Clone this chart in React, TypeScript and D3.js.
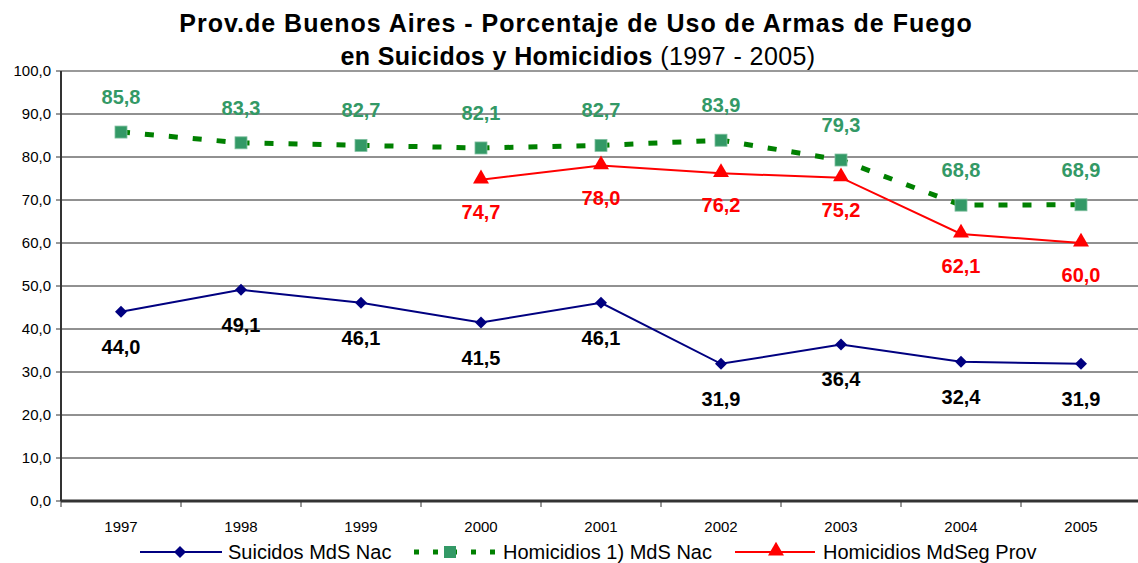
import React, { useEffect, useRef } from "react";
import * as d3 from "d3";

const years = ["1997", "1998", "1999", "2000", "2001", "2002", "2003", "2004", "2005"];
const suicidios = [44.0, 49.1, 46.1, 41.5, 46.1, 31.9, 36.4, 32.4, 31.9];
const homicidiosMds = [85.8, 83.3, 82.7, 82.1, 82.7, 83.9, 79.3, 68.8, 68.9];
const homicidiosMdseg = [null, null, null, 74.7, 78.0, 76.2, 75.2, 62.1, 60.0];
const yTicks = [0, 10, 20, 30, 40, 50, 60, 70, 80, 90, 100];

const W = 1138;
const H = 563;

const fmt = (v: number) => v.toFixed(1).replace(".", ",");

const App = () => {
  const ref = useRef<SVGSVGElement>(null);

  useEffect(() => {
    const svg = d3.select(ref.current);
    svg.selectAll("*").remove();
    const font = "Arial, 'Liberation Sans', sans-serif";

    const left = 61, right = 1141, top = 71, bottom = 501;

    const x = d3.scaleBand().domain(years).range([left, right]);
    const y = d3.scaleLinear().domain([0, 100]).range([bottom, top]);
    const cx = (d: string) => (x(d) as number) + x.bandwidth() / 2;

    // title
    const t = svg.append("text").attr("text-anchor", "middle")
      .style("font-family", font).style("font-size", "25px").style("font-weight", "bold");
    t.append("tspan").attr("x", 576).attr("y", 32).style("letter-spacing", "1px")
      .text("Prov.de Buenos Aires  - Porcentaje de Uso de Armas de Fuego");
    const t2 = t.append("tspan").attr("x", 578).attr("y", 65).style("letter-spacing", "0.4px");
    t2.append("tspan").text("en Suicidos y Homicidios ");
    t2.append("tspan").style("font-weight", "normal").text("(1997 - 2005)");

    // gridlines
    svg.append("g").selectAll("line").data(yTicks.filter((d) => d > 0)).join("line")
      .attr("x1", left).attr("x2", right)
      .attr("y1", (d) => y(d)).attr("y2", (d) => y(d))
      .attr("stroke", (d) => (d === 100 ? "#999" : "#222"))
      .attr("stroke-width", (d) => (d === 100 ? 2 : 1));

    // y axis
    svg.append("line").attr("x1", left).attr("x2", left).attr("y1", top).attr("y2", bottom)
      .attr("stroke", "#333").attr("stroke-width", 2);
    svg.append("g").selectAll("line").data(yTicks).join("line")
      .attr("x1", left - 5).attr("x2", left).attr("y1", (d) => y(d)).attr("y2", (d) => y(d))
      .attr("stroke", "#333").attr("stroke-width", 1);
    svg.append("g").selectAll("text").data(yTicks).join("text")
      .attr("x", left - 10).attr("y", (d) => y(d) + 5)
      .attr("text-anchor", "end").style("font-family", font).style("font-size", "15px")
      .text((d) => fmt(d));

    // x axis
    svg.append("line").attr("x1", left).attr("x2", right).attr("y1", bottom).attr("y2", bottom)
      .attr("stroke", "#333").attr("stroke-width", 3);
    const bounds = years.map((d) => x(d) as number).concat([right]);
    svg.append("g").selectAll("line").data(bounds).join("line")
      .attr("x1", (d) => d).attr("x2", (d) => d).attr("y1", bottom).attr("y2", bottom + 6)
      .attr("stroke", "#333").attr("stroke-width", 1);
    svg.append("g").selectAll("text").data(years).join("text")
      .attr("x", (d) => cx(d)).attr("y", bottom + 31)
      .attr("text-anchor", "middle").style("font-family", font).style("font-size", "15px")
      .text((d) => d);

    const pts = (vals: (number | null)[]) =>
      vals.map((v, i) => ({ year: years[i], v })).filter((p) => p.v !== null) as { year: string; v: number }[];

    const line = d3.line<{ year: string; v: number }>().x((d) => cx(d.year)).y((d) => y(d.v));

    // Homicidios MdS Nac (green dashed)
    const g1 = pts(homicidiosMds);
    svg.append("path").datum(g1).attr("d", line).attr("fill", "none")
      .attr("stroke", "#008000").attr("stroke-width", 5).attr("stroke-dasharray", "9,15");
    svg.append("g").selectAll("rect").data(g1).join("rect")
      .attr("x", (d) => cx(d.year) - 6).attr("y", (d) => y(d.v) - 6)
      .attr("width", 12).attr("height", 12).attr("fill", "#339966").attr("stroke", "#7fbf9f").attr("stroke-width", 0.8);
    svg.append("g").selectAll("text").data(g1).join("text")
      .attr("x", (d) => cx(d.year)).attr("y", (d) => y(d.v) - 28)
      .attr("text-anchor", "middle").style("font-family", font).style("font-size", "20px")
      .style("font-weight", "bold").attr("fill", "#339966").text((d) => fmt(d.v));

    // Homicidios MdSeg Prov (red)
    const g2 = pts(homicidiosMdseg);
    svg.append("path").datum(g2).attr("d", line).attr("fill", "none")
      .attr("stroke", "#ff0000").attr("stroke-width", 2);
    const tri = d3.symbol().type(d3.symbolTriangle).size(110);
    svg.append("g").selectAll("path").data(g2).join("path")
      .attr("d", tri).attr("transform", (d) => `translate(${cx(d.year)},${y(d.v) - 1})`)
      .attr("fill", "#ff0000");
    svg.append("g").selectAll("text").data(g2).join("text")
      .attr("x", (d) => cx(d.year)).attr("y", (d) => y(d.v) + 39)
      .attr("text-anchor", "middle").style("font-family", font).style("font-size", "20px")
      .style("font-weight", "bold").attr("fill", "#ff0000").text((d) => fmt(d.v));

    // Suicidios MdS Nac (navy), diamond = rotated square
    const g3 = pts(suicidios);
    svg.append("path").datum(g3).attr("d", line).attr("fill", "none")
      .attr("stroke", "#000080").attr("stroke-width", 2);
    const dia = d3.symbol().type(d3.symbolSquare).size(72);
    svg.append("g").selectAll("path").data(g3).join("path")
      .attr("d", dia).attr("transform", (d) => `translate(${cx(d.year)},${y(d.v)}) rotate(45)`)
      .attr("fill", "#000080");
    svg.append("g").selectAll("text").data(g3).join("text")
      .attr("x", (d) => cx(d.year)).attr("y", (d) => y(d.v) + 42)
      .attr("text-anchor", "middle").style("font-family", font).style("font-size", "20px")
      .style("font-weight", "bold").attr("fill", "#000").text((d) => fmt(d.v));

    // legend
    const ly = 552;
    const leg = svg.append("g");
    const legText = (xPos: number, label: string) =>
      leg.append("text").attr("x", xPos).attr("y", ly + 7).style("font-family", font).style("font-size", "20px")
        .text(label);

    leg.append("line").attr("x1", 140).attr("x2", 222).attr("y1", ly).attr("y2", ly)
      .attr("stroke", "#000080").attr("stroke-width", 2);
    leg.append("path").attr("d", dia).attr("transform", `translate(180,${ly}) rotate(45)`).attr("fill", "#000080");
    legText(228, "Suicidos MdS Nac");

    leg.append("line").attr("x1", 414).attr("x2", 498).attr("y1", ly).attr("y2", ly)
      .attr("stroke", "#008000").attr("stroke-width", 5).attr("stroke-dasharray", "5,14");
    leg.append("rect").attr("x", 444).attr("y", ly - 6).attr("width", 12).attr("height", 12).attr("fill", "#339966");
    legText(503, "Homicidios 1) MdS Nac");

    leg.append("line").attr("x1", 735).attr("x2", 815).attr("y1", ly).attr("y2", ly)
      .attr("stroke", "#ff0000").attr("stroke-width", 2);
    leg.append("path").attr("d", tri).attr("transform", `translate(776,${ly - 1})`).attr("fill", "#ff0000");
    legText(823, "Homicidios MdSeg Prov");
  }, []);

  return (
    <div style={{ position: "absolute", left: 0, top: 0, background: "#fff" }}>
      <svg ref={ref} width={W} height={H} style={{ display: "block" }} />
    </div>
  );
};

export default App;
